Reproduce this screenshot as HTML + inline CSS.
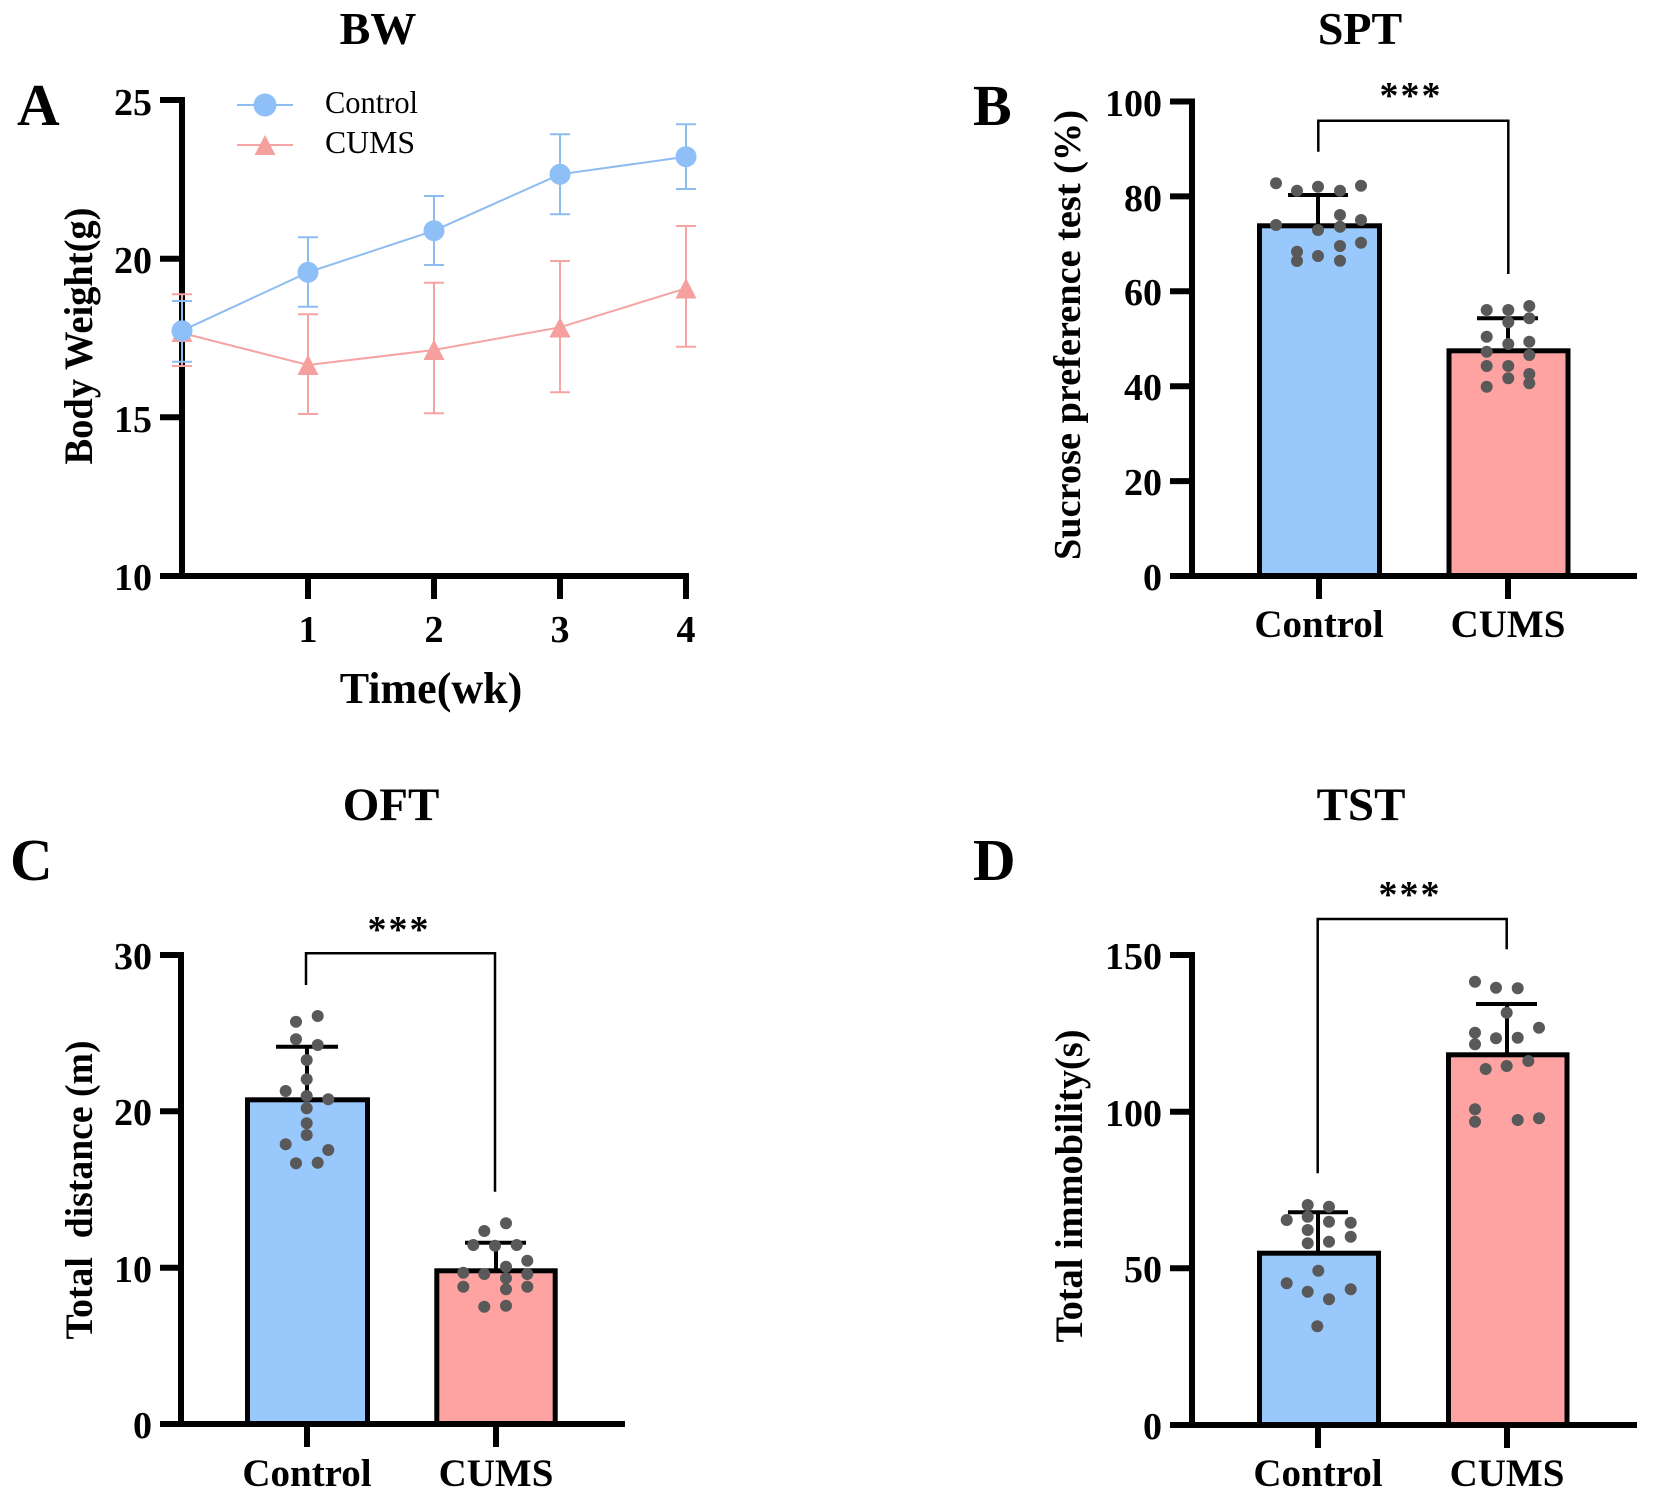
<!DOCTYPE html>
<html>
<head>
<meta charset="utf-8">
<style>
html,body{margin:0;padding:0;background:#fff;}
svg{display:block;}
text{font-family:"Liberation Serif","Times New Roman",serif;fill:#000;}
.b{font-weight:bold;}
</style>
</head>
<body>
<svg width="1654" height="1498" viewBox="0 0 1654 1498" xmlns="http://www.w3.org/2000/svg">
<rect width="1654" height="1498" fill="#fff"/>

<!-- ================= PANEL A ================= -->
<text class="b" x="17" y="125" font-size="59">A</text>
<text class="b" x="378" y="44" font-size="46" text-anchor="middle">BW</text>
<!-- axes -->
<g stroke="#000" stroke-width="6" fill="none">
  <line x1="182" y1="97" x2="182" y2="579"/>
  <line x1="160" y1="576" x2="689" y2="576"/>
  <line x1="160" y1="100" x2="182" y2="100"/>
  <line x1="160" y1="258.7" x2="182" y2="258.7"/>
  <line x1="160" y1="417.3" x2="182" y2="417.3"/>
  <line x1="308" y1="576" x2="308" y2="599"/>
  <line x1="434" y1="576" x2="434" y2="599"/>
  <line x1="560" y1="576" x2="560" y2="599"/>
  <line x1="686" y1="576" x2="686" y2="599"/>
</g>
<g class="b" font-size="38" text-anchor="end">
  <text class="b" x="152" y="115">25</text>
  <text class="b" x="152" y="273">20</text>
  <text class="b" x="152" y="432">15</text>
  <text class="b" x="152" y="590">10</text>
</g>
<g font-size="38" text-anchor="middle">
  <text class="b" x="308" y="642">1</text>
  <text class="b" x="434" y="642">2</text>
  <text class="b" x="560" y="642">3</text>
  <text class="b" x="686" y="642">4</text>
</g>
<text class="b" x="431" y="703" font-size="44" text-anchor="middle">Time(wk)</text>
<text class="b" transform="translate(92,336) rotate(-90)" font-size="40" text-anchor="middle" textLength="257" lengthAdjust="spacingAndGlyphs">Body Weight(g)</text>

<!-- CUMS series -->
<g stroke="#f5a3a3" stroke-width="2" fill="none">
  <polyline points="182,333 308,365 434,350 560,327.3 686,288.3"/>
  <line x1="182" y1="294.3" x2="182" y2="366"/><line x1="172" y1="294.3" x2="192" y2="294.3"/><line x1="172" y1="366" x2="192" y2="366"/>
  <line x1="308" y1="314.3" x2="308" y2="414"/><line x1="298" y1="314.3" x2="318" y2="314.3"/><line x1="298" y1="414" x2="318" y2="414"/>
  <line x1="434" y1="282.7" x2="434" y2="413.3"/><line x1="424" y1="282.7" x2="444" y2="282.7"/><line x1="424" y1="413.3" x2="444" y2="413.3"/>
  <line x1="560" y1="261" x2="560" y2="392.3"/><line x1="550" y1="261" x2="570" y2="261"/><line x1="550" y1="392.3" x2="570" y2="392.3"/>
  <line x1="686" y1="226" x2="686" y2="346.7"/><line x1="676" y1="226" x2="696" y2="226"/><line x1="676" y1="346.7" x2="696" y2="346.7"/>
</g>
<g fill="#f69f9f">
  <polygon points="182,322 171.5,342 192.5,342"/>
  <polygon points="308,354.5 297.5,375 318.5,375"/>
  <polygon points="434,339.5 423.5,360 444.5,360"/>
  <polygon points="560,317 549.5,337.5 570.5,337.5"/>
  <polygon points="686,278 675.5,298.5 696.5,298.5"/>
</g>
<!-- Control series -->
<g stroke="#8fbcf0" stroke-width="2" fill="none">
  <polyline points="182,330.7 308,272.3 434,230.7 560,174.3 686,156.7"/>
  <line x1="182" y1="301" x2="182" y2="361.7"/><line x1="172" y1="301" x2="192" y2="301"/><line x1="172" y1="361.7" x2="192" y2="361.7"/>
  <line x1="308" y1="237.3" x2="308" y2="306.7"/><line x1="298" y1="237.3" x2="318" y2="237.3"/><line x1="298" y1="306.7" x2="318" y2="306.7"/>
  <line x1="434" y1="196" x2="434" y2="265"/><line x1="424" y1="196" x2="444" y2="196"/><line x1="424" y1="265" x2="444" y2="265"/>
  <line x1="560" y1="134.3" x2="560" y2="214.3"/><line x1="550" y1="134.3" x2="570" y2="134.3"/><line x1="550" y1="214.3" x2="570" y2="214.3"/>
  <line x1="686" y1="124.3" x2="686" y2="189"/><line x1="676" y1="124.3" x2="696" y2="124.3"/><line x1="676" y1="189" x2="696" y2="189"/>
</g>
<g fill="#8ebff7">
  <circle cx="182" cy="330.7" r="10.5"/>
  <circle cx="308" cy="272.3" r="10.5"/>
  <circle cx="434" cy="230.7" r="10.5"/>
  <circle cx="560" cy="174.3" r="10.5"/>
  <circle cx="686" cy="156.7" r="10.5"/>
</g>
<!-- legend -->
<line x1="237" y1="105" x2="293" y2="105" stroke="#8fbcf0" stroke-width="2"/>
<circle cx="265" cy="105" r="11.5" fill="#8ebff7"/>
<line x1="237" y1="145" x2="293" y2="145" stroke="#f5a3a3" stroke-width="2"/>
<polygon points="265,135 254.5,155 275.5,155" fill="#f69f9f"/>
<text x="325" y="113" font-size="32" textLength="93" lengthAdjust="spacingAndGlyphs">Control</text>
<text x="325" y="153" font-size="32" textLength="90" lengthAdjust="spacingAndGlyphs">CUMS</text>

<!-- ================= PANEL B ================= -->
<text class="b" x="973" y="125" font-size="58">B</text>
<text class="b" x="1360" y="44" font-size="46" text-anchor="middle">SPT</text>
<!-- bars -->
<rect x="1259.5" y="225.8" width="120" height="350.2" fill="#99c8fd" stroke="#000" stroke-width="5"/>
<rect x="1449" y="350.8" width="119" height="225.2" fill="#ffa2a2" stroke="#000" stroke-width="5"/>
<g stroke="#000" stroke-width="4">
  <line x1="1318" y1="226" x2="1318" y2="195"/><line x1="1288" y1="195" x2="1348" y2="195"/>
  <line x1="1508" y1="351" x2="1508" y2="318.3"/><line x1="1477" y1="318.3" x2="1538" y2="318.3"/>
</g>
<!-- axes -->
<g stroke="#000" stroke-width="6" fill="none">
  <line x1="1192" y1="98.5" x2="1192" y2="579"/>
  <line x1="1170" y1="576" x2="1637" y2="576"/>
  <line x1="1170" y1="101.5" x2="1192" y2="101.5"/>
  <line x1="1170" y1="196.4" x2="1192" y2="196.4"/>
  <line x1="1170" y1="291.3" x2="1192" y2="291.3"/>
  <line x1="1170" y1="386.2" x2="1192" y2="386.2"/>
  <line x1="1170" y1="481.1" x2="1192" y2="481.1"/>
  <line x1="1319" y1="576" x2="1319" y2="599"/>
  <line x1="1508" y1="576" x2="1508" y2="599"/>
</g>
<g font-size="38" text-anchor="end">
  <text class="b" x="1162" y="116">100</text>
  <text class="b" x="1162" y="211">80</text>
  <text class="b" x="1162" y="305">60</text>
  <text class="b" x="1162" y="400">40</text>
  <text class="b" x="1162" y="495">20</text>
  <text class="b" x="1162" y="590">0</text>
</g>
<text class="b" x="1319" y="637" font-size="39" text-anchor="middle">Control</text>
<text class="b" x="1508" y="637" font-size="39" text-anchor="middle">CUMS</text>
<text class="b" transform="translate(1080,335) rotate(-90)" font-size="38.5" text-anchor="middle" textLength="450" lengthAdjust="spacingAndGlyphs">Sucrose preference test (%)</text>
<path d="M1318.3 151.7 V120.7 H1508.3 V274" stroke="#000" stroke-width="2.5" fill="none"/>
<text class="b" x="1411" y="108" font-size="38" text-anchor="middle" letter-spacing="2">***</text>
<g fill="#595959">
  <circle cx="1276" cy="183.3" r="6"/><circle cx="1297" cy="190.7" r="6"/><circle cx="1318" cy="186.7" r="6"/><circle cx="1340" cy="190.7" r="6"/><circle cx="1361" cy="185.7" r="6"/>
  <circle cx="1276" cy="225" r="6"/><circle cx="1318" cy="230" r="6"/><circle cx="1340" cy="215" r="6"/><circle cx="1340" cy="226.7" r="6"/><circle cx="1361" cy="220" r="6"/>
  <circle cx="1297" cy="251.7" r="6"/><circle cx="1297" cy="261" r="6"/><circle cx="1318" cy="256" r="6"/><circle cx="1340" cy="246" r="6"/><circle cx="1340" cy="260.7" r="6"/><circle cx="1361" cy="242.7" r="6"/>
  <circle cx="1486.7" cy="310" r="6"/><circle cx="1508.3" cy="310" r="6"/><circle cx="1529.3" cy="306" r="6"/><circle cx="1529.3" cy="318.3" r="6"/><circle cx="1508.3" cy="322.3" r="6"/>
  <circle cx="1486.7" cy="336.7" r="6"/><circle cx="1508.3" cy="344" r="6"/><circle cx="1529.3" cy="341.7" r="6"/><circle cx="1486.7" cy="351.7" r="6"/><circle cx="1529.3" cy="355" r="6"/>
  <circle cx="1486.7" cy="366" r="6"/><circle cx="1508.3" cy="366" r="6"/><circle cx="1508.3" cy="378.3" r="6"/><circle cx="1529.3" cy="374" r="6"/><circle cx="1529.3" cy="383.3" r="6"/><circle cx="1486.7" cy="386.7" r="6"/>
</g>

<!-- ================= PANEL C ================= -->
<text class="b" x="10" y="880" font-size="59">C</text>
<text class="b" x="391" y="820" font-size="47" text-anchor="middle">OFT</text>
<rect x="247.5" y="1099.8" width="120" height="324.2" fill="#99c8fd" stroke="#000" stroke-width="5"/>
<rect x="436.8" y="1270.8" width="118.4" height="153.2" fill="#ffa2a2" stroke="#000" stroke-width="5"/>
<g stroke="#000" stroke-width="4">
  <line x1="307" y1="1100" x2="307" y2="1046.7"/><line x1="276" y1="1046.7" x2="338" y2="1046.7"/>
  <line x1="496" y1="1271" x2="496" y2="1242.7"/><line x1="465" y1="1242.7" x2="526" y2="1242.7"/>
</g>
<g stroke="#000" stroke-width="6" fill="none">
  <line x1="181" y1="952" x2="181" y2="1427"/>
  <line x1="160" y1="1424" x2="625" y2="1424"/>
  <line x1="160" y1="955" x2="181" y2="955"/>
  <line x1="160" y1="1111.3" x2="181" y2="1111.3"/>
  <line x1="160" y1="1267.7" x2="181" y2="1267.7"/>
  <line x1="307" y1="1424" x2="307" y2="1447"/>
  <line x1="496" y1="1424" x2="496" y2="1447"/>
</g>
<g font-size="38" text-anchor="end">
  <text class="b" x="152" y="969">30</text>
  <text class="b" x="152" y="1125">20</text>
  <text class="b" x="152" y="1282">10</text>
  <text class="b" x="152" y="1438">0</text>
</g>
<text class="b" x="307" y="1486" font-size="39" text-anchor="middle">Control</text>
<text class="b" x="496" y="1486" font-size="39" text-anchor="middle">CUMS</text>
<text class="b" transform="translate(92,1190) rotate(-90)" font-size="39" text-anchor="middle" textLength="299" lengthAdjust="spacingAndGlyphs" xml:space="preserve">Total  distance (m)</text>
<path d="M306 985 V953.3 H495 V1191.7" stroke="#000" stroke-width="2.5" fill="none"/>
<text class="b" x="399" y="942" font-size="38" text-anchor="middle" letter-spacing="2">***</text>
<g fill="#595959">
  <circle cx="296" cy="1021.7" r="6"/><circle cx="317.7" cy="1016" r="6"/><circle cx="296" cy="1039.3" r="6"/><circle cx="317.7" cy="1045" r="6"/>
  <circle cx="306.7" cy="1060" r="6"/><circle cx="306.7" cy="1079.3" r="6"/><circle cx="285.7" cy="1091" r="6"/><circle cx="306.7" cy="1096" r="6"/>
  <circle cx="328.3" cy="1099.3" r="6"/><circle cx="306.7" cy="1108.3" r="6"/><circle cx="306.7" cy="1123.3" r="6"/><circle cx="306.7" cy="1135" r="6"/>
  <circle cx="285.7" cy="1144.3" r="6"/><circle cx="328.3" cy="1150" r="6"/><circle cx="296" cy="1163.3" r="6"/><circle cx="317.7" cy="1162.7" r="6"/>
  <circle cx="484.3" cy="1231" r="6"/><circle cx="506" cy="1223.3" r="6"/><circle cx="473.3" cy="1245" r="6"/><circle cx="495" cy="1245.7" r="6"/>
  <circle cx="516.7" cy="1245" r="6"/><circle cx="527.3" cy="1260.7" r="6"/><circle cx="463.3" cy="1272.7" r="6"/><circle cx="484.3" cy="1274" r="6"/>
  <circle cx="506" cy="1266.7" r="6"/><circle cx="527.3" cy="1274" r="6"/><circle cx="506" cy="1278.3" r="6"/><circle cx="463.3" cy="1286.7" r="6"/>
  <circle cx="506" cy="1289.3" r="6"/><circle cx="527.3" cy="1286.7" r="6"/><circle cx="484.3" cy="1306.7" r="6"/><circle cx="506" cy="1305.7" r="6"/>
</g>

<!-- ================= PANEL D ================= -->
<text class="b" x="973" y="880" font-size="59">D</text>
<text class="b" x="1361" y="820" font-size="47" text-anchor="middle">TST</text>
<rect x="1259.5" y="1253.2" width="119" height="171.8" fill="#99c8fd" stroke="#000" stroke-width="5"/>
<rect x="1448.5" y="1054.8" width="118.5" height="370.2" fill="#ffa2a2" stroke="#000" stroke-width="5"/>
<g stroke="#000" stroke-width="4">
  <line x1="1318" y1="1253" x2="1318" y2="1212.3"/><line x1="1288" y1="1212.3" x2="1348" y2="1212.3"/>
  <line x1="1507" y1="1055" x2="1507" y2="1004"/><line x1="1476" y1="1004" x2="1537" y2="1004"/>
</g>
<g stroke="#000" stroke-width="6" fill="none">
  <line x1="1192" y1="952" x2="1192" y2="1428"/>
  <line x1="1170" y1="1425" x2="1637" y2="1425"/>
  <line x1="1170" y1="955" x2="1192" y2="955"/>
  <line x1="1170" y1="1111.7" x2="1192" y2="1111.7"/>
  <line x1="1170" y1="1268.3" x2="1192" y2="1268.3"/>
  <line x1="1318" y1="1425" x2="1318" y2="1448"/>
  <line x1="1507" y1="1425" x2="1507" y2="1448"/>
</g>
<g font-size="38" text-anchor="end">
  <text class="b" x="1162" y="969">150</text>
  <text class="b" x="1162" y="1126">100</text>
  <text class="b" x="1162" y="1282">50</text>
  <text class="b" x="1162" y="1439">0</text>
</g>
<text class="b" x="1318" y="1486" font-size="39" text-anchor="middle">Control</text>
<text class="b" x="1507" y="1486" font-size="39" text-anchor="middle">CUMS</text>
<text class="b" transform="translate(1082,1186) rotate(-90)" font-size="39" text-anchor="middle" textLength="313" lengthAdjust="spacingAndGlyphs">Total immobility(s)</text>
<path d="M1317.7 1173.3 V919 H1506.7 V949.3" stroke="#000" stroke-width="2.5" fill="none"/>
<text class="b" x="1410" y="907" font-size="38" text-anchor="middle" letter-spacing="2">***</text>
<g fill="#595959">
  <circle cx="1307.7" cy="1205" r="6"/><circle cx="1329" cy="1206.7" r="6"/><circle cx="1286.7" cy="1220" r="6"/><circle cx="1307.7" cy="1216.7" r="6"/>
  <circle cx="1329" cy="1221.7" r="6"/><circle cx="1350.7" cy="1222.7" r="6"/><circle cx="1307.7" cy="1230" r="6"/><circle cx="1307.7" cy="1243.3" r="6"/>
  <circle cx="1329" cy="1241.7" r="6"/><circle cx="1350.7" cy="1236.7" r="6"/><circle cx="1318.3" cy="1270.7" r="6"/><circle cx="1286.7" cy="1283.3" r="6"/>
  <circle cx="1307.7" cy="1291.7" r="6"/><circle cx="1329" cy="1299.3" r="6"/><circle cx="1350.7" cy="1289.3" r="6"/><circle cx="1317.3" cy="1326.3" r="6"/>
  <circle cx="1475" cy="981.7" r="6"/><circle cx="1496" cy="987.7" r="6"/><circle cx="1517.7" cy="988.3" r="6"/><circle cx="1506.7" cy="1012.7" r="6"/>
  <circle cx="1475" cy="1032.7" r="6"/><circle cx="1496" cy="1038.3" r="6"/><circle cx="1517.7" cy="1037.7" r="6"/><circle cx="1539" cy="1027.7" r="6"/>
  <circle cx="1475" cy="1044.3" r="6"/><circle cx="1485.7" cy="1069" r="6"/><circle cx="1506.7" cy="1066" r="6"/><circle cx="1528.3" cy="1061" r="6"/>
  <circle cx="1475" cy="1109.3" r="6"/><circle cx="1475" cy="1121.7" r="6"/><circle cx="1517.7" cy="1120" r="6"/><circle cx="1539" cy="1118.3" r="6"/>
</g>
</svg>
</body>
</html>
